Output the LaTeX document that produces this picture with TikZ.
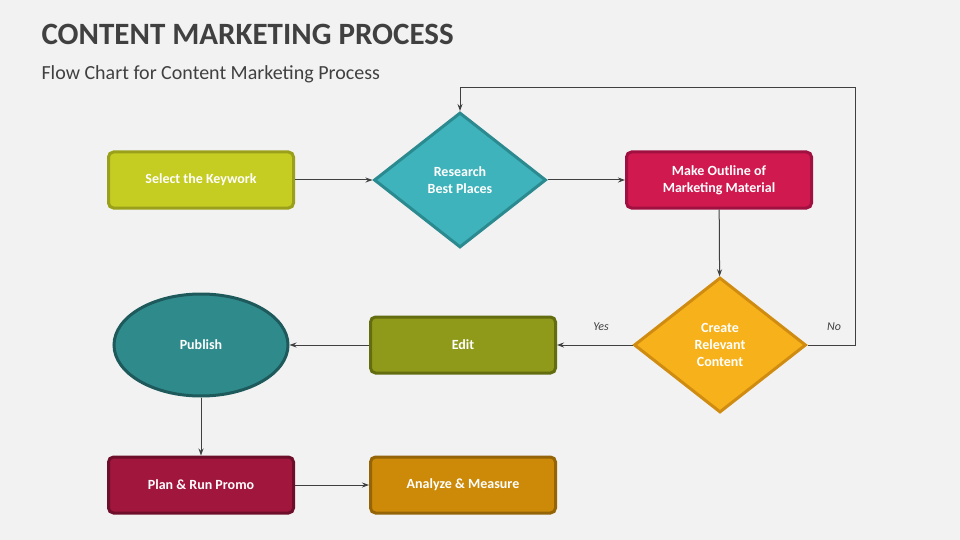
\documentclass[tikz,border=0pt]{standalone}
\usepackage{fontspec}
\setmainfont{Carlito}
\usetikzlibrary{shapes.geometric,arrows.meta}
\definecolor{bg}{HTML}{F2F2F2}
\definecolor{tx}{HTML}{404040}
\definecolor{c1}{HTML}{C5CC22}\definecolor{b1}{HTML}{9AA01A}
\definecolor{c2}{HTML}{3FB3BB}\definecolor{b2}{HTML}{2A8A90}
\definecolor{c3}{HTML}{D0194E}\definecolor{b3}{HTML}{A01040}
\definecolor{c4}{HTML}{F7B21B}\definecolor{b4}{HTML}{D08C10}
\definecolor{c5}{HTML}{8F9A1A}\definecolor{b5}{HTML}{646C10}
\definecolor{c6}{HTML}{2F8A8C}\definecolor{b6}{HTML}{1E5A5C}
\definecolor{c7}{HTML}{A0163C}\definecolor{b7}{HTML}{6E0E2A}
\definecolor{c8}{HTML}{CC8A08}\definecolor{b8}{HTML}{946406}
\begin{document}
\begin{tikzpicture}[x=1pt,y=-1pt,
  lbl/.style={text=white,font=\bfseries\fontsize{14}{17}\selectfont,align=center},
  boxn/.style={lbl,rounded corners=5pt,line width=3pt,minimum width=185pt,minimum height=56pt},
  dia/.style={lbl,diamond,line width=3pt,minimum width=172pt,minimum height=135pt,inner sep=0pt},
  con/.style={draw=tx,line width=1pt,-{Stealth[length=7pt,width=5pt]}},
  yn/.style={text=tx,font=\itshape\fontsize{12}{14}\selectfont}]
\fill[bg] (0,0) rectangle (960,540);
\node[anchor=base west,text=tx,font=\bfseries\fontsize{31}{36}\selectfont] (t) at (38,45) {CONTENT MARKETING PROCESS};
\node[anchor=base west,text=tx,font=\fontsize{20}{24}\selectfont] (st) at (38,80) {Flow Chart for Content Marketing Process};
\node[boxn,fill=c1,draw=b1] (a) at (201,180) {Select the Keywork};
\node[dia,fill=c2,draw=b2] (b) at (460,180) {Research\\Best Places};
\node[boxn,fill=c3,draw=b3] (c) at (719,180) {Make Outline of\\Marketing Material};
\node[dia,fill=c4,draw=b4] (d) at (720,345) {Create\\Relevant\\Content};
\node[boxn,fill=c5,draw=b5] (e) at (463,345) {Edit};
\node[lbl,ellipse,fill=c6,draw=b6,line width=3pt,minimum width=174pt,minimum height=102pt] (f) at (201,345) {Publish};
\node[boxn,fill=c7,draw=b7] (g) at (201,485) {Plan \& Run Promo};
\node[boxn,fill=c8,draw=b8] (h) at (463,485) {Analyze \& Measure};
\draw[con] (a) -- (b);
\draw[con] (b) -- (c);
\draw[con] (c) -- (d);
\draw[con] (d) -- (e);
\draw[con] (e) -- (f);
\draw[con] (f) -- (g);
\draw[con] (g) -- (h);
\coordinate (n1) at (855,345);
\coordinate (n2) at (855,88);
\coordinate (n3) at (460,88);
\draw[con] (d.east) -- (n1) -- (n2) -- (n3) -- (b.north);
\node[yn] (yes) at (601,327) {Yes};
\node[yn] (no) at (834,327) {No};
\end{tikzpicture}
\end{document}
